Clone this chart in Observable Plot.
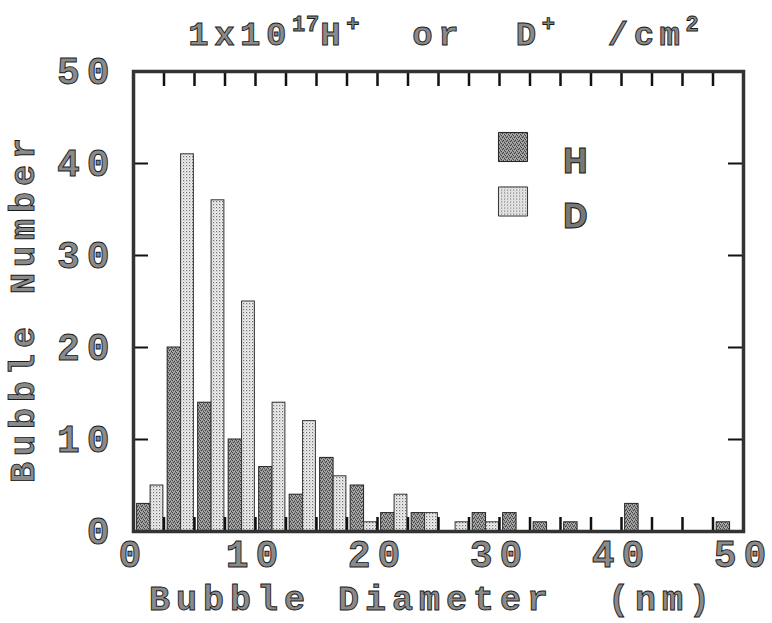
<!DOCTYPE html>
<html>
<head>
<meta charset="utf-8">
<script src="https://cdn.jsdelivr.net/npm/d3@7"></script>
<script src="https://cdn.jsdelivr.net/npm/@observablehq/plot@0.6"></script>
<style>
  html, body { margin: 0; padding: 0; background: #fff; }
  #chart svg text { fill: #8a8a8a; stroke: #1a1a1a; stroke-width: 0.9px; }
  #chart svg [aria-label="x-axis tick label"] text,
  #chart svg [aria-label="y-axis tick label"] text { letter-spacing: 7px; }
  #chart svg .axislabel text { letter-spacing: 6px; }
  #chart svg text.title { letter-spacing: 5.5px; }
  #chart svg .legendtext text { font-family: "Liberation Sans Narrow", "DejaVu Sans Condensed", sans-serif; letter-spacing: 0; fill: #777; stroke: #111; }
</style>
</head>
<body>
<div id="chart"></div>
<script>
// Bin starts (nm), 2.5 nm wide bins
const binStart = [0, 2.5, 5, 7.5, 10, 12.5, 15, 17.5, 20, 22.5, 25, 27.5, 30, 32.5, 35, 37.5, 40, 42.5, 45, 47.5];
// Bubble counts
const countH = [3, 20, 14, 10, 7, 4, 8, 5, 2, 2, 0, 2, 2, 1, 1, 0, 3, 0, 0, 1];
const countD = [5, 41, 36, 25, 14, 12, 6, 1, 4, 2, 1, 1, 0, 0, 0, 0, 0, 0, 0, 0];
const xTickLabels = [0, 10, 20, 30, 40, 50];
const yTickLabels = [0, 10, 20, 30, 40, 50];
const xMinorTicks = [2.5, 5, 7.5, 10, 12.5, 15, 17.5, 20, 22.5, 25, 27.5, 30, 32.5, 35, 37.5, 40, 42.5, 45, 47.5];
const yMinorTicks = [10, 20, 30, 40];
const legendKeys = ["H", "D"];
const titleParts = [["1x10", false], ["17", true], ["H", false], ["+", true], ["\u00a0\u00a0or\u00a0\u00a0D", false], ["+", true], ["\u00a0\u00a0/cm", false], ["2", true]];
const xLabel = "Bubble\u00a0Diameter\u00a0\u00a0(nm)";
const yLabel = "Bubble Number";

const binW = 2.5;
const rowsH = binStart.map((b, i) => ({b, v: countH[i]})).filter(d => d.v > 0);
const rowsD = binStart.map((b, i) => ({b, v: countD[i]})).filter(d => d.v > 0);

const frameH = 623 - 71 - 92;
const frameW = 772 - 133 - 29;

const chart = Plot.plot({
  width: 772,
  height: 623,
  marginLeft: 133,
  marginRight: 29,
  marginTop: 71,
  marginBottom: 92,
  x: {domain: [0, 50]},
  y: {domain: [0, 50]},
  style: {fontFamily: "'Liberation Mono', 'DejaVu Sans Mono', monospace", fontWeight: "bold", background: "#fff", overflow: "visible"},
  marks: [
    Plot.rectY(rowsH, {x1: d => d.b + binW * 0.12, x2: d => d.b + binW * 0.56, y: "v", fill: "url(#patH)", stroke: "#222", strokeWidth: 1}),
    Plot.rectY(rowsD, {x1: d => d.b + binW * 0.56, x2: d => d.b + binW * 0.98, y: "v", fill: "url(#patD)", stroke: "#333", strokeWidth: 1}),
    Plot.ruleX(xMinorTicks, {insetBottom: frameH - 15, stroke: "#111", strokeWidth: 2.5}),
    Plot.ruleX(xMinorTicks, {insetTop: frameH - 14, stroke: "#111", strokeWidth: 2.5}),
    Plot.ruleY(yMinorTicks, {insetRight: frameW - 15, stroke: "#111", strokeWidth: 2}),
    Plot.ruleY(yMinorTicks, {insetLeft: frameW - 15, stroke: "#111", strokeWidth: 2}),
    Plot.frame({stroke: "#333", strokeWidth: 3.5}),
    Plot.axisX(xTickLabels, {tickSize: 0, tickPadding: 9, fontSize: 38, label: null}),
    Plot.axisY(yTickLabels, {tickSize: 0, tickPadding: 17, fontSize: 38, label: null}),
    Plot.text([xLabel], {text: d => d, frameAnchor: "bottom", textAnchor: "middle", lineAnchor: "middle", dy: 67, dx: -6, fontSize: 35, className: "axislabel"}),
    Plot.text([yLabel], {text: d => d, frameAnchor: "left", textAnchor: "middle", lineAnchor: "middle", dx: -111, dy: 6, rotate: -90, fontSize: 35, className: "axislabel"}),
    Plot.dot([legendKeys[0]], {frameAnchor: "top-left", dx: 379.5, dy: 75.5, symbol: "square", r: 16.4, fill: "url(#patH)", stroke: "#222", strokeWidth: 1}),
    Plot.dot([legendKeys[1]], {frameAnchor: "top-left", dx: 379.5, dy: 130, symbol: "square", r: 16.4, fill: "url(#patD)", stroke: "#333", strokeWidth: 1}),
    Plot.text([legendKeys[0]], {text: d => d, frameAnchor: "top-left", dx: 429, dy: 77, textAnchor: "start", fontSize: 34, className: "legendtext"}),
    Plot.text([legendKeys[1]], {text: d => d, frameAnchor: "top-left", dx: 429, dy: 132, textAnchor: "start", fontSize: 34, className: "legendtext"})
  ]
});

const svg = d3.select(chart);
const defs = svg.insert("defs", ":first-child");
const pH = defs.append("pattern").attr("id", "patH").attr("patternUnits", "userSpaceOnUse").attr("width", 4).attr("height", 4);
pH.append("rect").attr("width", 4).attr("height", 4).attr("fill", "#8c8c8c");
[[0,0],[2,1],[1,2],[3,3]].forEach(([x, y]) => pH.append("rect").attr("x", x).attr("y", y).attr("width", 1).attr("height", 1).attr("fill", "#444"));
[[1,0],[0,3],[2,3],[3,1]].forEach(([x, y]) => pH.append("rect").attr("x", x).attr("y", y).attr("width", 1).attr("height", 1).attr("fill", "#b4b4b4"));
const pD = defs.append("pattern").attr("id", "patD").attr("patternUnits", "userSpaceOnUse").attr("width", 3).attr("height", 3);
pD.append("rect").attr("width", 3).attr("height", 3).attr("fill", "#f0f0f0");
pD.append("rect").attr("x", 0).attr("y", 0).attr("width", 1.2).attr("height", 1.2).attr("fill", "#707070");
pD.append("rect").attr("x", 1.5).attr("y", 1.5).attr("width", 1).attr("height", 1).attr("fill", "#a8a8a8");

const title = svg.append("text").attr("class", "title").attr("x", 444).attr("y", 45)
  .attr("text-anchor", "middle").attr("font-size", 34);
titleParts.forEach(([s, sup], i) => {
  const ts = title.append("tspan").text(s);
  const prevSup = i > 0 && titleParts[i - 1][1];
  if (sup) ts.attr("font-size", 22).attr("dy", -14).attr("letter-spacing", 1);
  else ts.attr("dy", prevSup ? 14 : 0);
});

document.getElementById("chart").appendChild(chart);
</script>
</body>
</html>
